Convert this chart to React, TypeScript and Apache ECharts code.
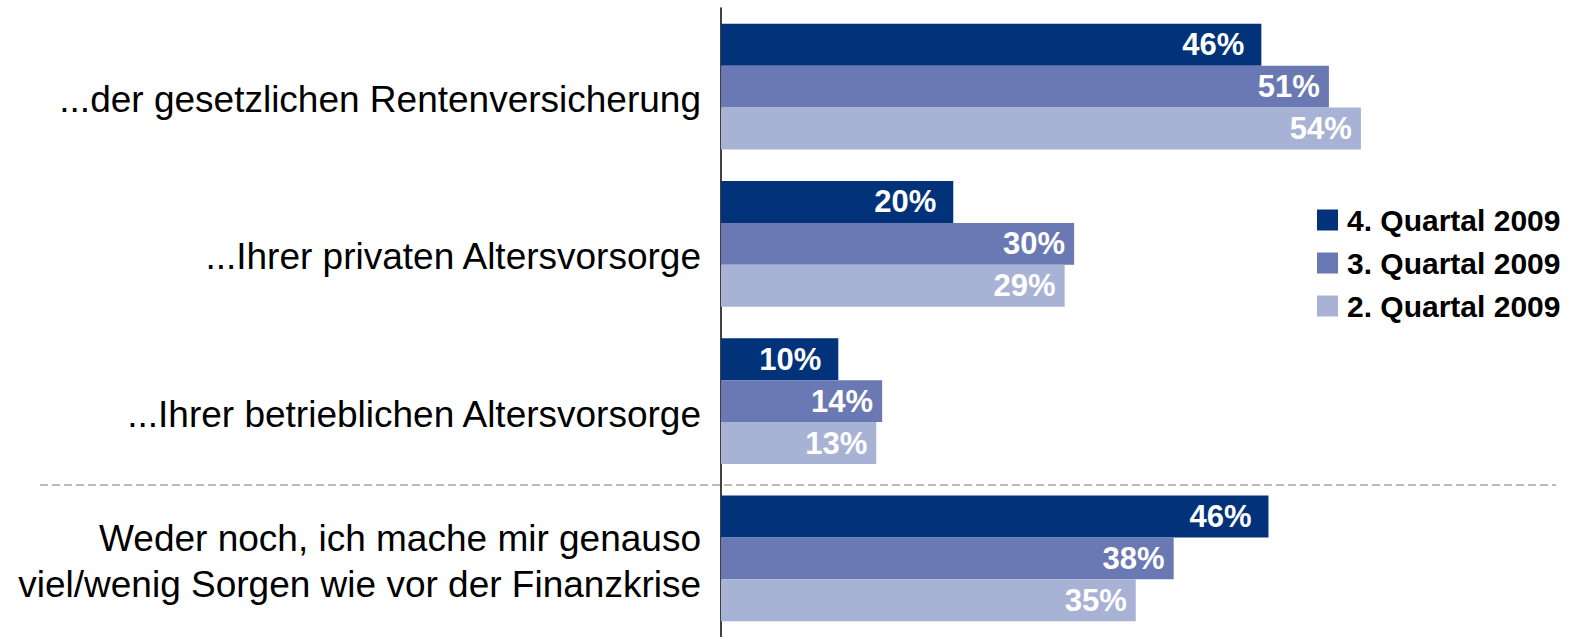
import React, { useEffect, useRef } from "react";
import * as echarts from "echarts";

const categories = [
  "...der gesetzlichen Rentenversicherung",
  "...Ihrer privaten Altersvorsorge",
  "...Ihrer betrieblichen Altersvorsorge",
  "Weder noch, ich mache mir genauso\nviel/wenig Sorgen wie vor der Finanzkrise",
];
const seriesNames = ["4. Quartal 2009", "3. Quartal 2009", "2. Quartal 2009"];
const q4Values = [45.6, 19.6, 9.9, 46.2];
const q3Values = [51.3, 29.8, 13.6, 38.2];
const q2Values = [54.0, 29.0, 13.1, 35.0];
const seriesColors = ["#02327A", "#6A79B3", "#A8B2D5"];

const FONT = "'Liberation Sans', Arial, Helvetica, sans-serif";

export default function App() {
  const ref = useRef<HTMLDivElement>(null);
  useEffect(() => {
    if (!ref.current) return;
    const chart = echarts.init(ref.current, undefined, { renderer: "svg" });
    const values = [q4Values, q3Values, q2Values];
    const distances = [17, 9, 9];
    chart.setOption({
      animation: false,
      backgroundColor: "#ffffff",
      grid: { left: 721, top: 8, width: 829.5, height: 636 },
      xAxis: {
        type: "value",
        min: 0,
        max: 70,
        show: false,
        splitLine: { show: false },
      },
      yAxis: {
        type: "category",
        inverse: true,
        data: categories,
        axisTick: { show: false },
        axisLine: { show: true, lineStyle: { color: "#000", width: 1.5 } },
        axisLabel: {
          color: "#000",
          fontSize: 37,
          fontFamily: FONT,
          margin: 20,
          align: "right",
          lineHeight: 46,
          padding: [6, 0, 0, 0],
          formatter: (value: string) =>
            value.indexOf("\n") >= 0 ? value : "{s|" + value + "}",
          rich: {
            s: {
              color: "#000",
              fontSize: 37,
              fontFamily: FONT,
              lineHeight: 46,
              padding: [20, 0, 0, 0],
            },
          },
        },
      },
      legend: {
        orient: "vertical",
        left: 1312,
        top: 200,
        icon: "rect",
        itemWidth: 21,
        itemHeight: 21,
        itemGap: 13,
        data: seriesNames,
        textStyle: {
          color: "#000",
          fontSize: 30,
          fontWeight: "bold",
          fontFamily: FONT,
          padding: [0, 0, 0, 4],
        },
      },
      graphic: [
        {
          type: "line",
          shape: { x1: 40, y1: 485, x2: 1556, y2: 485 },
          style: { stroke: "#BBBBBB", lineWidth: 2, lineDash: [8, 4] },
          z: 10,
        },
      ],
      series: seriesNames.map((name, i) => ({
        name,
        type: "bar",
        data: values[i],
        barGap: "0%",
        barCategoryGap: "20%",
        itemStyle: { color: seriesColors[i] },
        label: {
          show: true,
          position: "insideRight",
          distance: distances[i],
          color: "#fff",
          fontSize: 31,
          fontWeight: "bold",
          fontFamily: FONT,
          formatter: (p: any) => Math.round(p.value) + "%",
        },
      })),
    });
    return () => chart.dispose();
  }, []);
  return (
    <div
      ref={ref}
      style={{ position: "absolute", left: 0, top: 0, width: 1581, height: 637 }}
    />
  );
}
